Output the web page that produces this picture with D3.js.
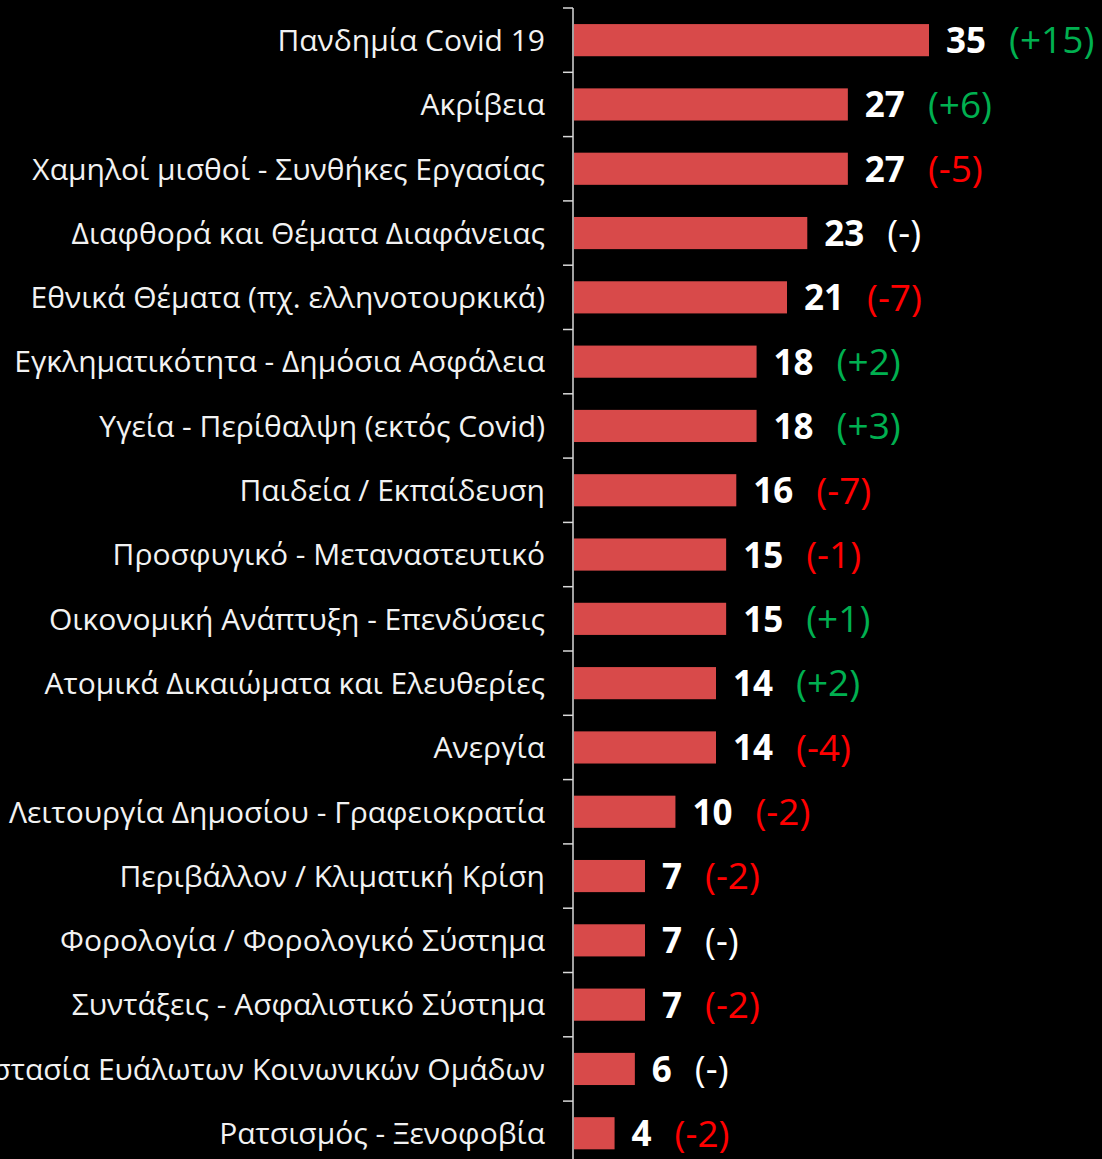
<!DOCTYPE html>
<html>
<head>
<meta charset="utf-8">
<script src="https://cdn.jsdelivr.net/npm/d3@7"></script>
<style>
  html, body { margin: 0; padding: 0; background: #000; }
  svg { display: block; }
</style>
</head>
<body>
<svg id="chart" width="1102" height="1159"></svg>
<script>
const categories = [
  "Πανδημία Covid 19",
  "Ακρίβεια",
  "Χαμηλοί μισθοί - Συνθήκες Εργασίας",
  "Διαφθορά και Θέματα Διαφάνειας",
  "Εθνικά Θέματα (πχ. ελληνοτουρκικά)",
  "Εγκληματικότητα - Δημόσια Ασφάλεια",
  "Υγεία - Περίθαλψη (εκτός Covid)",
  "Παιδεία / Εκπαίδευση",
  "Προσφυγικό - Μεταναστευτικό",
  "Οικονομική Ανάπτυξη - Επενδύσεις",
  "Ατομικά Δικαιώματα και Ελευθερίες",
  "Ανεργία",
  "Λειτουργία Δημοσίου - Γραφειοκρατία",
  "Περιβάλλον / Κλιματική Κρίση",
  "Φορολογία / Φορολογικό Σύστημα",
  "Συντάξεις - Ασφαλιστικό Σύστημα",
  "Προστασία Ευάλωτων Κοινωνικών Ομάδων",
  "Ρατσισμός - Ξενοφοβία"
];
const values = [35, 27, 27, 23, 21, 18, 18, 16, 15, 15, 14, 14, 10, 7, 7, 7, 6, 4];
const changes = ["+15", "+6", "-5", "-", "-7", "+2", "+3", "-7", "-1", "+1", "+2", "-4", "-2", "-2", "-", "-2", "-", "-2"];

const data = categories.map((c, i) => ({ cat: c, v: values[i], ch: changes[i] }));

const svg = d3.select("#chart");
const axisX = 573;

const x = d3.scaleLinear().domain([0, 35]).range([axisX + 1, 929]);
const y = d3.scaleBand().domain(categories).range([8, 8 + 18 * 64.3])
  .paddingInner(0.5).paddingOuter(0.25);

// bars
svg.append("g").selectAll("rect").data(data).join("rect")
  .attr("x", x(0))
  .attr("y", d => y(d.cat))
  .attr("width", d => x(d.v) - x(0))
  .attr("height", y.bandwidth())
  .attr("fill", "#d84a4a");

// axis
const axis = d3.axisLeft(y).tickSize(0).tickFormat("");
const ag = svg.append("g").attr("transform", `translate(${axisX},0)`).call(axis);
ag.select(".domain").attr("stroke", "#d9d9d9").attr("stroke-width", 1.5)
  .attr("d", `M0,${y.range()[0]}V${y.range()[1]}`);
ag.selectAll(".tick").remove();
const boundaryY = d3.range(categories.length + 1).map(i => y.range()[0] + i * y.step());
ag.selectAll("line.bt").data(boundaryY).join("line")
  .attr("class", "bt")
  .attr("x1", -10).attr("x2", 0)
  .attr("y1", d => d).attr("y2", d => d)
  .attr("stroke", "#d9d9d9").attr("stroke-width", 1.5);

// category labels
svg.append("g").selectAll("text").data(data).join("text")
  .attr("x", 545)
  .attr("y", d => y(d.cat) + y.bandwidth() / 2)
  .attr("dy", "0.36em")
  .attr("text-anchor", "end")
  .attr("fill", "#f2f2f2")
  .attr("font-family", "'Open Sans', 'Noto Sans', sans-serif")
  .attr("font-size", 30)
  .text(d => d.cat);

// value labels
const vg = svg.append("g");
const vt = vg.selectAll("text").data(data).join("text")
  .attr("x", d => x(d.v) + 17)
  .attr("y", d => y(d.cat) + y.bandwidth() / 2)
  .attr("dy", "0.37em")
  .attr("fill", "#ffffff")
  .attr("font-family", "'Open Sans', 'Noto Sans', sans-serif")
  .attr("font-weight", "bold")
  .attr("font-size", 35)
  .text(d => d.v);

const color = ch => ch.startsWith("+") ? "#00b050" : (ch === "-" ? "#ffffff" : "#ff0000");
const cg = svg.append("g");
vt.each(function(d) {
  const end = x(d.v) + 17 + this.getComputedTextLength();
  cg.append("text")
    .attr("x", end + 23)
    .attr("y", y(d.cat) + y.bandwidth() / 2)
    .attr("dy", "0.36em")
    .attr("fill", color(d.ch))
    .attr("font-family", "'Open Sans', 'Noto Sans', sans-serif")
    .attr("font-size", 37)
    .text(`(${d.ch})`);
});
</script>
</body>
</html>
